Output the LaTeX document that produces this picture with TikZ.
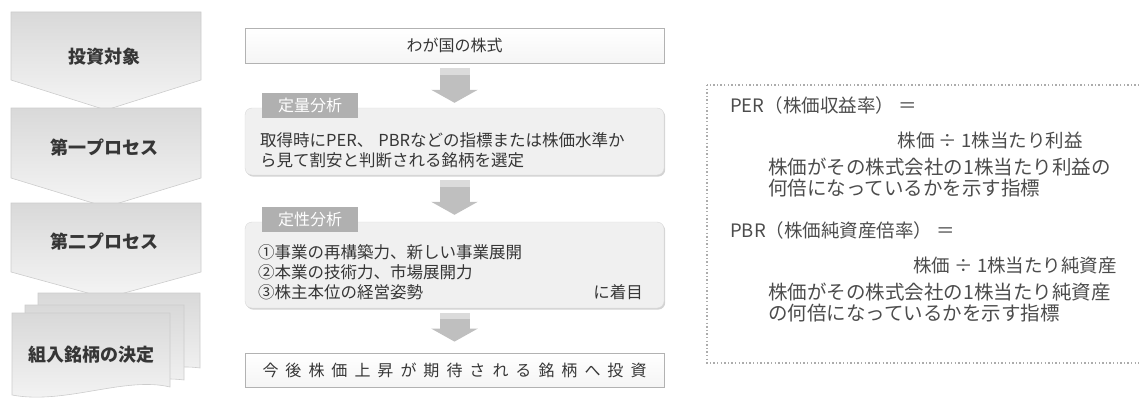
\documentclass[tikz,border=0pt]{standalone}
\usepackage{fontspec}
\newfontfamily\jp{Noto Sans CJK JP}
\usetikzlibrary{arrows.meta,shadows}
\definecolor{txt}{HTML}{363636}
\definecolor{rtxt}{HTML}{4C4C4C}
\newcommand\sk{\kern7pt}
\begin{document}
\begin{tikzpicture}[x=1pt,y=-1pt,
  chev/.style={draw=gray!40, line width=0.6pt, top color=gray!30, bottom color=gray!8},
  chevtxt/.style={font=\jp\bfseries\fontsize{18}{20}\selectfont, text=txt, inner sep=0pt},
  plainbox/.style={draw=gray!60, line width=0.8pt, top color=white, bottom color=gray!8, minimum width=419pt, inner sep=0pt, font=\jp\fontsize{16}{18}\selectfont, text=txt},
  roundbox/.style={draw=gray!30, fill=gray!12, rounded corners=7pt, minimum width=419pt, inner sep=0pt, drop shadow={shadow xshift=1.2pt, shadow yshift=-1.6pt, opacity=.35}},
  tabbox/.style={fill=gray!62, text=white, minimum width=96pt, minimum height=25pt, inner sep=0pt, font=\jp\fontsize{16}{18}\selectfont},
  bodytxt/.style={font=\jp\fontsize{16.5}{18}\selectfont, text=txt, inner sep=0pt, anchor=west},
  rbody/.style={font=\jp\fontsize{18.5}{20}\selectfont, text=rtxt, inner sep=0pt},
  rbodyb/.style={font=\jp\fontsize{19.5}{21}\selectfont, text=rtxt, inner sep=0pt},
  blockarrow/.style={draw=gray!50, line width=30pt, -{Triangle[width=46pt,length=13pt]}},
  arrowtop/.style={draw=gray!28, line width=30pt},
  dotbox/.style={draw=gray!65, line width=1.2pt, dash pattern=on 1.4pt off 2.2pt},
]
\useasboundingbox (0,0) rectangle (1139,404);

% ---- left process column ----
\draw[chev] (11,12) -- (201,12) -- (201,80) -- (106,110) -- (11,80) -- cycle;
\node[chevtxt] (s1) at (104,57) {投資対象};
\draw[chev] (11,108) -- (201,108) -- (201,178) -- (106,207) -- (11,178) -- cycle;
\node[chevtxt] (s2) at (104,148) {第一プロセス};
\draw[chev] (11,203) -- (201,203) -- (201,272) -- (106,298) -- (11,272) -- cycle;
\node[chevtxt] (s3) at (104,242) {第二プロセス};
% stacked documents
\draw[chev] (38,293) -- (200,293) -- (200,368) .. controls (160,362) and (90,385) .. (38,372) -- cycle;
\draw[chev] (25,305) -- (184,305) -- (184,380) .. controls (140,374) and (80,397) .. (25,384) -- cycle;
\draw[chev] (12,313) -- (170,313) -- (170,387) .. controls (125,376) and (65,405) .. (12,395) -- cycle;
\node[chevtxt] (s4) at (91,355) {組入銘柄の決定};

% ---- centre column ----
\node[plainbox, minimum height=35pt] (market) at (454.5,45.5) {わが国の株式};

\node[roundbox, minimum height=67pt] (quant) at (454.5,141.5) {};
\node[tabbox] (quanttab) at (310,105.5) {定量分析};
\node[bodytxt] (q1) at (260,140) {取得時にPER、\kern5pt PBRなどの指標または株価水準か};
\node[bodytxt] (q2) at (260,160) {ら見て割安と判断される銘柄を選定};

\node[roundbox, minimum height=86pt] (qual) at (454.5,265) {};
\node[tabbox] (qualtab) at (310,219.5) {定性分析};
\node[bodytxt] (p1) at (258,252) {①事業の再構築力、新しい事業展開};
\node[bodytxt] (p2) at (258,272) {②本業の技術力、市場展開力};
\node[bodytxt] (p3) at (258,292) {③株主本位の経営姿勢};
\node[bodytxt, anchor=east] (p4) at (643,292) {に着目};

\node[plainbox, minimum height=34pt] (final) at (454.5,370) {今\sk 後\sk 株\sk 価\sk 上\sk 昇\sk が\sk 期\sk 待\sk さ\sk れ\sk る\sk 銘\sk 柄\sk へ\sk 投\sk 資};

\draw[blockarrow] ([yshift=-5pt]market.south) -- ([yshift=5pt]quant.north);
\draw[arrowtop] ([yshift=-5pt]market.south) -- ([yshift=-12pt]market.south);
\draw[blockarrow] ([yshift=-5pt]quant.south) -- ([yshift=7pt]qual.north);
\draw[arrowtop] ([yshift=-5pt]quant.south) -- ([yshift=-12pt]quant.south);
\draw[blockarrow] ([yshift=-5pt]qual.south) -- ([yshift=11pt]final.north);
\draw[arrowtop] ([yshift=-5pt]qual.south) -- ([yshift=-11pt]qual.south);

% ---- right explanation box ----
\draw[dotbox] (707,85) rectangle (1160,363);
\node[rbody, anchor=west] (per) at (730,105) {PER（株価収益率） ＝};
\node[rbody, anchor=east] (perf) at (1083,140) {株価 ÷ 1株当たり利益};
\node[rbodyb, anchor=west] (perd1) at (768,167) {株価がその株式会社の1株当たり利益の};
\node[rbodyb, anchor=west] (perd2) at (768,188) {何倍になっているかを示す指標};
\node[rbody, anchor=west] (pbr) at (730,230) {PBR（株価純資産倍率） ＝};
\node[rbody, anchor=east] (pbrf) at (1117,265) {株価 ÷ 1株当たり純資産};
\node[rbodyb, anchor=west] (pbrd1) at (768,292) {株価がその株式会社の1株当たり純資産};
\node[rbodyb, anchor=west] (pbrd2) at (768,313) {の何倍になっているかを示す指標};
\end{tikzpicture}
\end{document}
